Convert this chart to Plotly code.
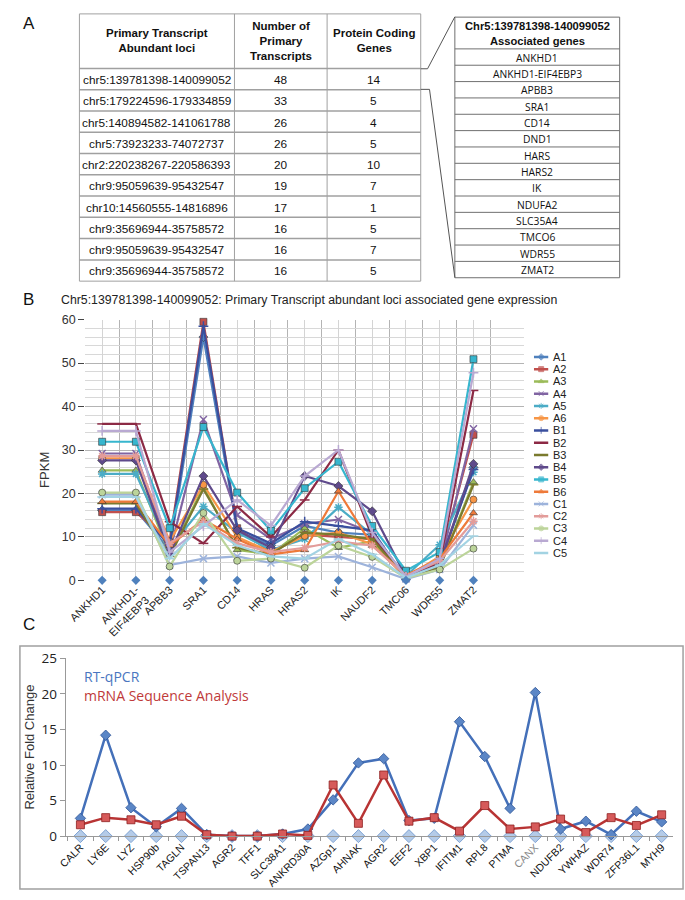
import plotly.graph_objects as go

W, H = 685, 900
def X(px): return px / W
def Y(py): return 1 - py / H

# ---------------- Data ----------------
loci = ["chr5:139781398-140099052", "chr5:179224596-179334859", "chr5:140894582-141061788",
        "chr5:73923233-74072737", "chr2:220238267-220586393", "chr9:95059639-95432547",
        "chr10:14560555-14816896", "chr9:35696944-35758572", "chr9:95059639-95432547",
        "chr9:35696944-35758572"]
n_transcripts = [48, 33, 26, 26, 20, 19, 17, 16, 16, 16]
protein_genes = [14, 5, 4, 5, 10, 7, 1, 5, 7, 5]
assoc_genes = ["ANKHD1", "ANKHD1-EIF4EBP3", "APBB3", "SRA1", "CD14", "DND1", "HARS", "HARS2",
               "IK", "NDUFA2", "SLC35A4", "TMCO6", "WDR55", "ZMAT2"]

b_categories = ["ANKHD1", "ANKHD1-<br>EIF4EBP3", "APBB3", "SRA1", "CD14", "HRAS", "HRAS2",
                "IK", "NAUDF2", "TMC06", "WDR55", "ZMAT2"]
A1 = [16.1, 16.1, 7.0, 56.0, 11.5, 8.0, 12.5, 11.0, 10.5, 0.5, 3.5, 26.0]
A2 = [15.7, 15.7, 9.0, 59.5, 12.0, 6.5, 10.5, 10.0, 9.5, 0.8, 4.5, 33.5]
A3 = [25.3, 25.3, 6.0, 21.5, 7.0, 6.0, 12.0, 7.5, 9.0, 0.6, 3.0, 22.6]
A4 = [29.2, 29.2, 6.5, 37.0, 15.0, 9.5, 13.0, 14.0, 11.0, 0.4, 3.5, 34.9]
A5 = [24.5, 24.5, 7.5, 17.0, 11.0, 7.0, 9.5, 16.8, 10.5, 1.0, 8.2, 24.9]
A6 = [28.1, 28.1, 9.0, 22.0, 10.0, 6.5, 10.2, 11.0, 8.3, 0.7, 5.5, 18.6]
B1 = [16.5, 16.5, 8.0, 58.5, 12.0, 8.5, 13.5, 12.5, 11.5, 0.3, 4.0, 25.5]
B2 = [36.0, 36.0, 13.5, 8.5, 17.0, 10.0, 18.5, 30.0, 10.0, 0.5, 4.0, 43.7]
B3 = [17.7, 17.7, 5.5, 21.0, 7.5, 6.0, 11.0, 10.5, 9.5, 0.5, 3.0, 22.0]
B4 = [27.6, 27.6, 6.0, 24.0, 11.5, 7.5, 24.0, 21.7, 15.9, 0.8, 3.5, 26.8]
B5 = [31.9, 31.9, 12.0, 35.3, 20.2, 11.4, 21.2, 27.3, 12.5, 2.2, 6.5, 50.9]
B6 = [18.1, 18.1, 8.0, 14.0, 9.5, 6.0, 7.0, 20.5, 8.0, 1.2, 5.0, 15.5]
C1 = [19.7, 19.7, 3.5, 5.0, 5.5, 4.0, 5.0, 5.5, 3.0, 0.3, 2.5, 12.7]
C2 = [28.6, 28.6, 8.5, 13.5, 8.5, 6.5, 7.5, 9.0, 8.0, 1.0, 4.5, 13.6]
C3 = [20.2, 20.2, 3.2, 15.5, 4.5, 5.0, 2.9, 8.0, 5.4, 0.5, 2.5, 7.3]
C4 = [34.4, 34.4, 6.5, 12.5, 18.5, 12.6, 24.0, 30.0, 11.0, 0.8, 5.0, 47.8]
C5 = [19.2, 19.2, 5.0, 13.0, 8.0, 5.5, 5.0, 9.5, 6.0, 0.6, 3.5, 10.2]
b_baseline = [0, 0, 0, 0, 0, 0, 0, 0, 0, 0, 0, 0]

c_genes = ["CALR", "LY6E", "LYZ", "HSP90b", "TAGLN", "TSPAN13", "AGR2", "TFF1", "SLC38A1",
           "ANKRD30A", "AZGp1", "AHNAK", "AGR2", "EEF2", "XBP1", "IFITM1", "RPL8", "PTMA",
           "CANX", "NDUFB2", "YWHAZ", "WDR74", "ZFP36L1", "MYH9"]
rt_qpcr = [2.5, 14.2, 4.0, 1.3, 3.9, 0.2, 0.0, 0.0, 0.3, 1.0, 5.1, 10.3, 10.9, 2.2, 2.5,
           16.1, 11.2, 3.9, 20.2, 1.0, 2.1, 0.2, 3.5, 2.0]
mrna_seq = [1.6, 2.6, 2.3, 1.6, 2.8, 0.2, 0.0, 0.0, 0.3, 0.1, 7.2, 1.8, 8.6, 2.1, 2.6,
            0.7, 4.3, 1.0, 1.3, 2.4, 0.5, 2.6, 1.5, 3.0]
c_baseline = [0, 0, 0, 0, 0, 0, 0, 0, 0, 0, 0, 0, 0, 0, 0, 0, 0, 0, 0, 0, 0, 0, 0, 0]

FONT = "Liberation Sans, Arial, sans-serif"
HUM = "Open Sans, Lato, sans-serif"
fig = go.Figure()

# ---------------- Chart B ----------------
series = [
    ("A1", A1, "#4F81BD", "diamond"), ("A2", A2, "#C0504D", "square"),
    ("A3", A3, "#9BBB59", "triangle-up"), ("A4", A4, "#8064A2", "x-thin-open"),
    ("A5", A5, "#4BACC6", "asterisk-open"), ("A6", A6, "#F79646", "circle"),
    ("B1", B1, "#3A4F9E", "cross-thin-open"), ("B2", B2, "#8C2A45", "line-ew-open"),
    ("B3", B3, "#7A7A2E", "line-ew-open"), ("B4", B4, "#5F4A8B", "diamond"),
    ("B5", B5, "#37B6CE", "square"), ("B6", B6, "#EE7A3A", "triangle-up"),
    ("C1", C1, "#9DB3DB", "x-thin-open"), ("C2", C2, "#E39C9A", "asterisk-open"),
    ("C3", C3, "#BCD49A", "circle"), ("C4", C4, "#B9A9D2", "cross-thin-open"),
    ("C5", C5, "#A3D3E3", "line-ew-open"),
]

def mk(sym, col, size):
    openm = sym.endswith("open")
    return dict(symbol=sym, size=size, color=col,
                line=dict(width=1.5 if openm else 0.6, color=col if openm else "#333"))

bx = list(range(len(b_categories)))
for name, vals, col, sym in series:
    fig.add_trace(go.Scatter(
        x=bx, y=vals, name=name, mode="lines+markers", xaxis="x", yaxis="y",
        line=dict(color=col, width=2.2), marker=mk(sym, col, 7),
        cliponaxis=False, showlegend=False,
    ))
fig.add_trace(go.Scatter(x=bx, y=b_baseline, mode="markers", xaxis="x", yaxis="y",
                         showlegend=False, cliponaxis=False,
                         marker=dict(symbol="diamond", size=7, color="#4F81BD")))

# legend of chart B, drawn on its own hidden axis (one row per series)
for i, (name, vals, col, sym) in enumerate(series):
    fig.add_trace(go.Scatter(x=[0, 1, 2], y=[i, i, i], mode="lines+markers", xaxis="x3", yaxis="y3",
                             showlegend=False, hoverinfo="skip", line=dict(color=col, width=2.5),
                             marker=dict(symbol=sym, size=[0, 5, 0], color=col,
                                         line=dict(width=1, color=col))))

# ---------------- Chart C ----------------
cx = list(range(len(c_genes)))
fig.add_trace(go.Scatter(x=cx, y=c_baseline, mode="markers", xaxis="x2", yaxis="y2",
                         showlegend=False, cliponaxis=False,
                         marker=dict(symbol="diamond", size=10, color="#B4CBE8",
                                     line=dict(color="#7FA3D3", width=1))))
fig.add_trace(go.Scatter(x=cx, y=rt_qpcr, mode="lines+markers", xaxis="x2", yaxis="y2",
                         showlegend=False, cliponaxis=False,
                         line=dict(color="#4470B9", width=2.5),
                         marker=dict(symbol="diamond", size=8, color="#5B86C6",
                                     line=dict(color="#2F5597", width=0.8))))
fig.add_trace(go.Scatter(x=cx, y=mrna_seq, mode="lines+markers", xaxis="x2", yaxis="y2",
                         showlegend=False, cliponaxis=False,
                         line=dict(color="#B83434", width=2.5),
                         marker=dict(symbol="square", size=8, color="#D65A5A",
                                     line=dict(color="#8E1F1F", width=0.8))))

c_ticktext = [f'<span style="color:#888">{g}</span>' if g == "CANX" else g for g in c_genes]

shapes = []
annotations = []

def line(x0, y0, x1, y1, color="#999", width=1):
    shapes.append(dict(type="line", xref="paper", yref="paper", x0=X(x0), y0=Y(y0),
                       x1=X(x1), y1=Y(y1), line=dict(color=color, width=width)))

def text(x, y, t, size=12, color="#111", bold=False, family=FONT, xanchor="center", angle=0):
    if bold:
        t = "<b>" + t + "</b>"
    annotations.append(dict(x=X(x), y=Y(y), xref="paper", yref="paper", text=t, showarrow=False,
                            xanchor=xanchor, yanchor="middle", textangle=angle,
                            font=dict(size=size, color=color, family=family)))

# ---- Table A (left) ----
tl, tr, tt = 64, 414, 5
cols = [64, 223, 318, 414]
hb = 60.7
rh = 21.7
tb = hb + rh * len(loci)
tc = "#A0A0A0"
for cxp in cols:
    line(cxp, tt, cxp, tb, tc)
line(tl, tt, tr, tt, tc)
line(tl, hb, tr, hb, tc, 1.5)
for i in range(len(loci)):
    line(tl, hb + rh * (i + 1), tr, hb + rh * (i + 1), tc, 1.5 if i < len(loci) - 1 else 1)
text(143.5, 32.5, "Primary Transcript<br>Abundant loci", 11.5, bold=True)
text(270.5, 32.5, "Number of<br>Primary<br>Transcripts", 11.5, bold=True)
text(366, 32.5, "Protein Coding<br>Genes", 11.5, bold=True)
for i, (l, n, p) in enumerate(zip(loci, n_transcripts, protein_genes)):
    yc = hb + rh * (i + 0.5) + 1
    text(143.5, yc, l, 11.8)
    text(270.5, yc, str(n), 11.8)
    text(366, yc, str(p), 11.8)

# ---- Table A (right) ----
rl, rr, rt = 449, 618, 8.3
rhb = 40.7
rrh = 16.68
rb = rhb + rrh * len(assoc_genes)
rc = "#707070"
line(rl, rt, rl, rb, rc)
line(rr, rt, rr, rb, rc)
line(rl, rt, rr, rt, rc)
line(rl, rhb, rr, rhb, rc)
for i in range(len(assoc_genes)):
    line(rl, rhb + rrh * (i + 1), rr, rhb + rrh * (i + 1), rc)
text(533.5, 24.5, "Chr5:139781398-140099052<br>Associated genes", 11.2, bold=True)
for i, g in enumerate(assoc_genes):
    text(533.5, rhb + rrh * (i + 0.5) + 0.5, g, 10.3, family=HUM)

# connector lines
line(414, 61, 421, 61, "#555")
line(421, 61, 449, 8, "#555")
line(414, 82, 423, 82, "#555")
line(423, 82, 449, 274, "#555")

# panel letters
text(4, 15, "A", 17, xanchor="left")
text(4, 296, "B", 17, xanchor="left")
text(4, 628, "C", 17, xanchor="left")

# Chart B title, axis title, legend labels
text(43, 296.5, "Chr5:139781398-140099052: Primary Transcript abundant loci associated gene expression",
     12.3, color="#222", xanchor="left")
text(28, 470, "FPKM", 13, color="#333", angle=-90)
for i, (name, vals, col, sym) in enumerate(series):
    text(548, 355 + 12.5 * i, name, 11, color="#222", xanchor="left")

# Chart C box and legend text
shapes.append(dict(type="rect", xref="paper", yref="paper", x0=X(3), y0=Y(898), x1=X(683), y1=Y(650),
                   line=dict(color="#A0A0A0", width=1.5)))
text(67, 681.5, "RT-qPCR", 14, color="#4A76C0", xanchor="left", family=HUM)
text(67, 700, "mRNA Sequence Analysis", 14, color="#C03A3A", xanchor="left", family=HUM)
text(13, 753, "Relative Fold Change", 13, color="#333", angle=-90)

fig.update_layout(
    width=W, height=H, margin=dict(l=0, r=0, t=0, b=0),
    paper_bgcolor="white", plot_bgcolor="white",
    font=dict(family=FONT, color="#222"),
    shapes=shapes, annotations=annotations, showlegend=False,
    xaxis=dict(domain=[X(70), X(520)], range=[-0.5, 12.5], anchor="y",
               tickmode="array", tickvals=bx, ticktext=b_categories, tickangle=-45,
               tickfont=dict(size=11, color="#222"), showgrid=True, gridcolor="#D4D4D4",
               showline=False, zeroline=False, ticks="",
               minor=dict(tick0=-0.5, dtick=1, showgrid=True, gridcolor="#B4B4B4", ticks="")),
    yaxis=dict(domain=[Y(583), Y(317)], range=[0, 60], anchor="x", dtick=10,
               tickfont=dict(size=12.5, color="#333"), ticks="outside", ticklen=6, tickcolor="#444",
               showgrid=True, gridcolor="#B4B4B4", zeroline=False, showline=False,
               minor=dict(dtick=2, showgrid=True, gridcolor="#D8D8D8")),
    xaxis2=dict(domain=[X(50), X(673)], range=[-0.58, 23.46], anchor="y2",
                tickmode="array", tickvals=cx, ticktext=c_ticktext, tickangle=-45,
                tickfont=dict(size=10.5, color="#111"), showgrid=False, zeroline=False,
                showline=True, linecolor="#999", ticks="",
                minor=dict(tick0=-0.5, dtick=1, ticks="outside", ticklen=4, tickcolor="#999")),
    yaxis2=dict(domain=[Y(844), Y(662.7)], range=[0, 25], anchor="x2", dtick=5,
                tickfont=dict(size=13.5, color="#222", family=HUM),
                ticks="outside", ticklen=5, tickcolor="#999", showline=True, linecolor="#999",
                showgrid=False, zeroline=False),
    xaxis3=dict(domain=[X(530), X(545)], range=[0, 2], anchor="y3", visible=False, fixedrange=True),
    yaxis3=dict(domain=[Y(355 + 12.5 * 16 + 6.25), Y(355 - 6.25)], range=[16.5, -0.5], anchor="x3",
                visible=False, fixedrange=True),
)

fig.write_html("out.html", config={"displayModeBar": False},
               post_script="document.body.style.margin='0px';document.documentElement.style.overflow='hidden';")
